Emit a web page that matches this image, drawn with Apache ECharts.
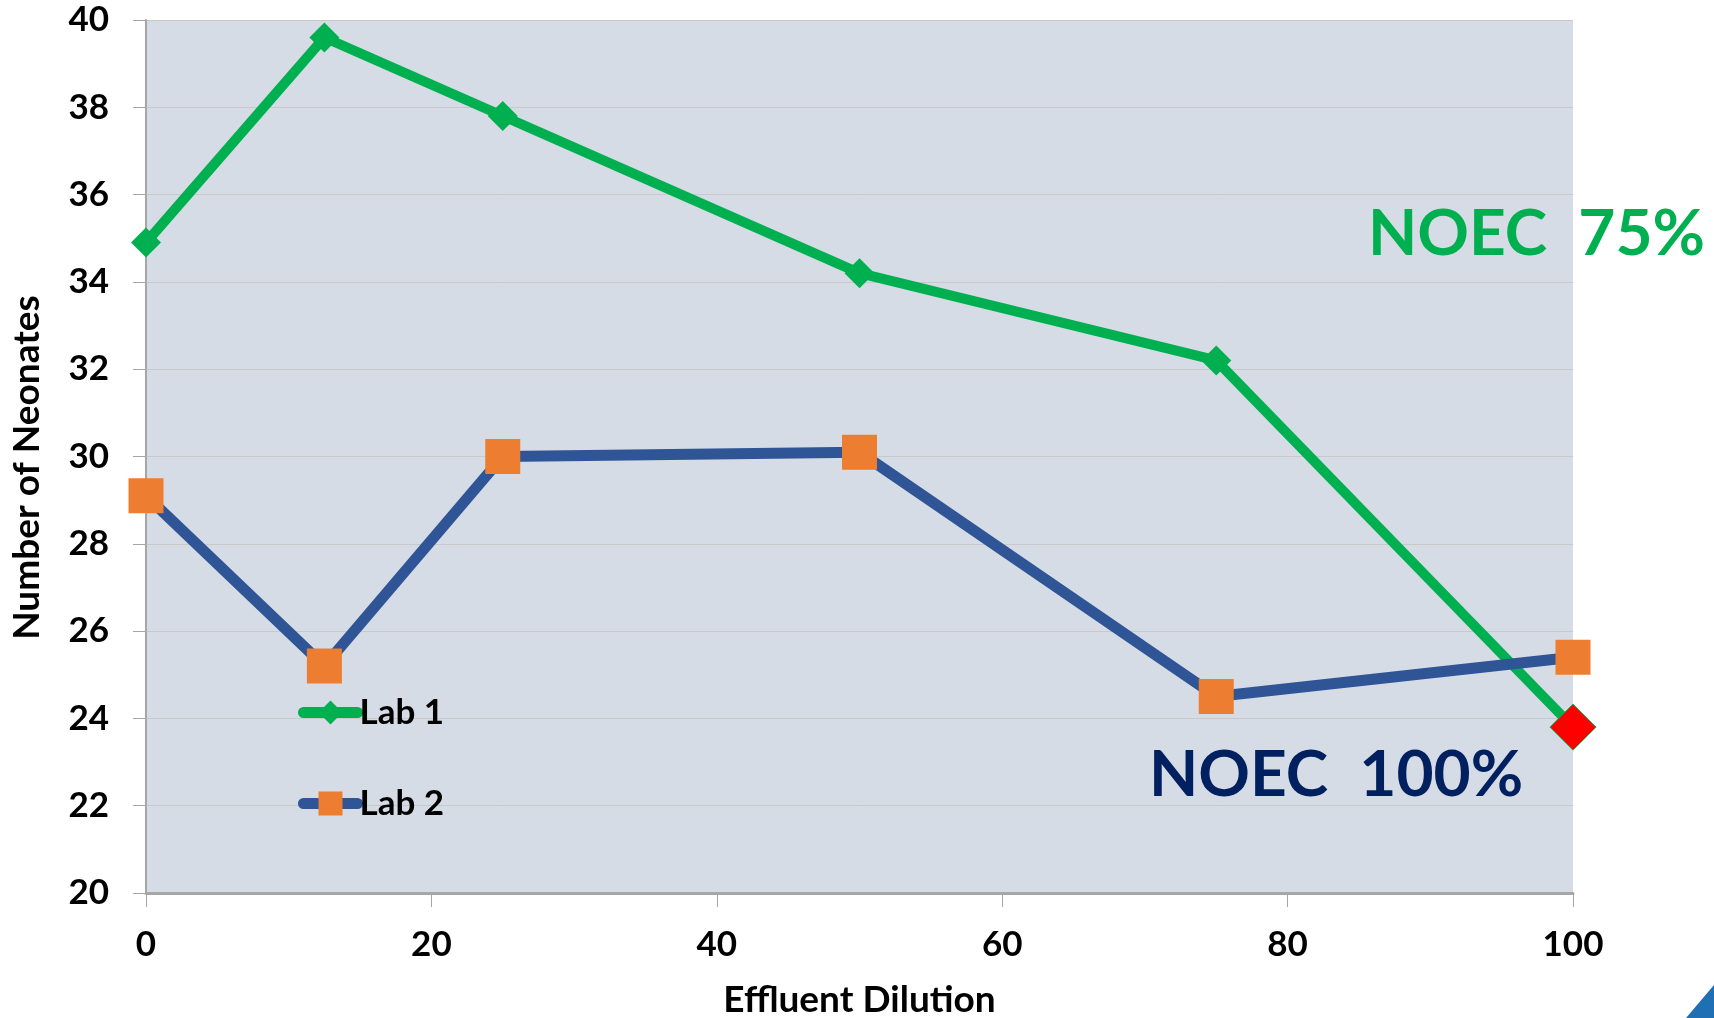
<!DOCTYPE html>
<html>
<head>
    <meta charset="utf-8" />
    <title>Number of Neonates vs Effluent Dilution</title>
    <script src="https://cdn.jsdelivr.net/npm/echarts@6/dist/echarts.min.js"></script>
    <style>
        html, body { margin: 0; padding: 0; background: #ffffff; }
    </style>
</head>
<body>
<div id="main" style="width: 1714px;height:1018px;"></div>
<script type="text/javascript">
    // data
    var dilution = [0, 12.5, 25, 50, 75, 100];
    var lab1 = [34.9, 39.6, 37.8, 34.2, 32.2, 23.8];
    var lab2 = [29.1, 25.2, 30.0, 30.1, 24.5, 25.4];
    var seriesNames = ['Lab 1', 'Lab 2'];
    var notes = ['NOEC  75%', 'NOEC  100%'];

    var font = 'Lato, "Open Sans", sans-serif';

    function pairs(xs, ys) {
        var out = [];
        for (var i = 0; i < xs.length; i++) {
            out.push([xs[i], ys[i]]);
        }
        return out;
    }

    var lab1Data = pairs(dilution, lab1);
    // last Lab 1 point is highlighted as a big red diamond
    var last = lab1Data.length - 1;
    lab1Data[last] = {
        value: lab1Data[last],
        symbolSize: 46,
        itemStyle: { color: '#FF0000', borderColor: '#00B050', borderWidth: 1 }
    };

    var myChart = echarts.init(document.getElementById('main'));
    var option = {
        animation: false,
        grid: {
            left: 146, right: 141, top: 20, bottom: 125,
            outerBoundsMode: 'none',
            show: true, backgroundColor: '#D6DCE5', borderWidth: 0
        },
        legend: {
            orient: 'vertical',
            left: 293, top: 690,
            itemWidth: 54, itemHeight: 30, itemGap: 56,
            lineStyle: { width: 11, cap: 'round' },
            textStyle: { fontFamily: font, fontWeight: 'bold', fontSize: 35, color: '#000', padding: [0, 0, 0, -3] },
            data: seriesNames
        },
        xAxis: {
            type: 'value',
            min: 0, max: 100, interval: 20,
            name: 'Effluent Dilution',
            nameLocation: 'middle',
            nameGap: 89,
            nameTextStyle: { fontFamily: font, fontWeight: 'bold', fontSize: 37, color: '#000' },
            axisLine: { show: true, onZero: false, lineStyle: { color: '#A6A6A6', width: 3 } },
            axisTick: { show: true, length: 14, lineStyle: { color: '#A6A6A6', width: 1 } },
            axisLabel: { fontFamily: font, fontWeight: 'bold', fontSize: 35, color: '#000', margin: 34 },
            splitLine: { show: false }
        },
        yAxis: {
            type: 'value',
            min: 20, max: 40, interval: 2,
            name: 'Number of Neonates',
            nameLocation: 'middle',
            nameGap: 100,
            nameTextStyle: { fontFamily: font, fontWeight: 'bold', fontSize: 37, color: '#000', padding: [0, 22, 0, 0] },
            axisLine: { show: true, lineStyle: { color: '#A6A6A6', width: 2 } },
            axisTick: { show: true, length: 13, lineStyle: { color: '#A6A6A6', width: 1 } },
            axisLabel: { fontFamily: font, fontWeight: 'bold', fontSize: 35, color: '#000', margin: 37 },
            splitLine: { show: true, lineStyle: { color: '#C9C9C9', width: 1 } }
        },
        graphic: [
            {
                type: 'text', left: 1368, top: 202, z: 10,
                style: { text: notes[0], fill: '#00B050', font: 'bold 64px ' + font }
            },
            {
                type: 'text', left: 1149, top: 743, z: 10,
                style: { text: notes[1], fill: '#002060', font: 'bold 64px ' + font }
            },
            {
                type: 'polygon', z: 10,
                shape: { points: [[1714, 985], [1714, 1018], [1686, 1018]] },
                style: { fill: '#1F6FB5' }
            }
        ],
        series: [
            {
                name: seriesNames[0],
                type: 'line',
                data: lab1Data,
                symbol: 'diamond',
                symbolSize: 30,
                color: '#00B050',
                itemStyle: { color: '#00B050' },
                lineStyle: { color: '#00B050', width: 10, cap: 'round' }
            },
            {
                name: seriesNames[1],
                type: 'line',
                data: pairs(dilution, lab2),
                symbol: 'rect',
                symbolSize: 35,
                color: '#2F5597',
                itemStyle: { color: '#ED7D31' },
                lineStyle: { color: '#2F5597', width: 11, cap: 'round' }
            }
        ]
    };
    myChart.setOption(option);
</script>
</body>
</html>
